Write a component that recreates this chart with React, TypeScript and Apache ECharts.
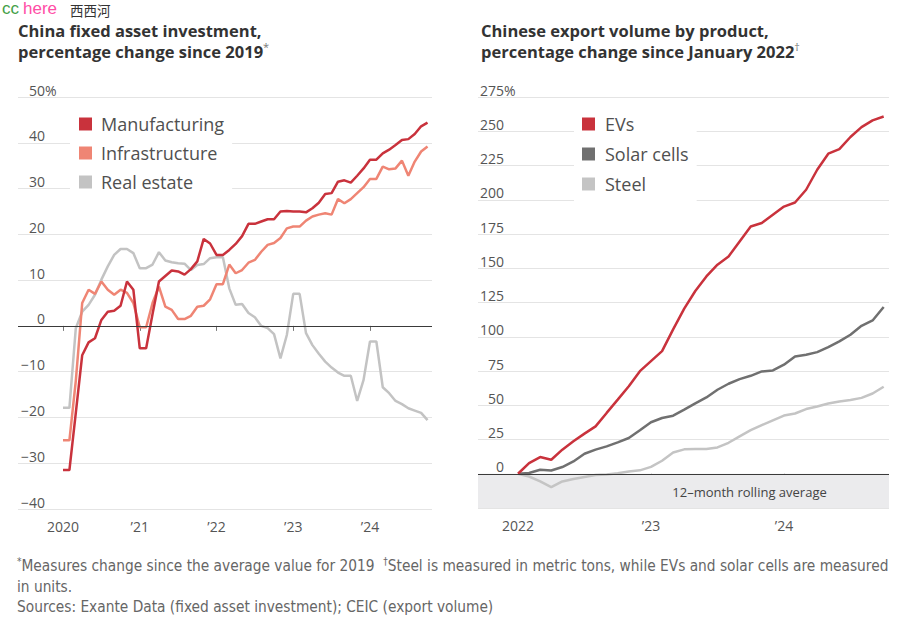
import React, { useEffect, useRef } from 'react';
import * as echarts from 'echarts';

// ---------- data ----------
// Left chart: monthly, index 0 = Jan 2020 ... 57 = Oct 2024
const leftTickMonths = [0, 12, 24, 36, 48];
const leftTickLabels = ['2020', '’21', '’22', '’23', '’24'];
const manufacturing = [
  -31.5, -31.5, -19, -6.4, -3.6, -2.7, 1.3, 3.1, 3.3, 4.4, 9.7, 7.9,
  -4.9, -4.9, 2.6, 9.7, 10.9, 12.1, 11.9, 11.2, 12.4, 14.1, 19.0, 18.0,
  15.5, 15.5, 16.6, 17.9, 19.6, 22.3, 22.3, 22.8, 23.3, 23.3, 25.0, 25.1,
  25.0, 25.0, 24.8, 25.7, 26.9, 28.8, 29.0, 31.5, 31.8, 31.3, 32.8, 34.4,
  36.3, 36.3, 37.7, 38.5, 39.5, 40.6, 40.8, 41.9, 43.6, 44.4,
];
const infrastructure = [
  -25, -25, -12, 5.0, 7.9, 7.0, 9.7, 7.9, 6.8, 7.9, 7.2, 5.0,
  -0.3, -0.3, 5.0, 8.6, 4.2, 3.5, 1.5, 1.5, 2.2, 4.2, 4.4, 5.8,
  9.1, 9.1, 13.4, 11.5, 12.2, 13.8, 14.4, 16.2, 17.7, 18.1, 19.2, 21.3,
  21.7, 21.7, 23.0, 23.9, 24.3, 24.6, 24.3, 27.7, 26.8, 27.7, 29.0, 30.3,
  32.1, 32.1, 34.8, 34.2, 34.4, 36.1, 32.8, 35.9, 38.1, 39.2,
];
const realEstate = [
  -17.9, -17.9, -0.5, 3.1, 4.6, 6.8, 10.1, 13.0, 15.5, 16.8, 16.8, 15.9,
  12.6, 12.6, 13.4, 16.1, 14.3, 13.9, 13.7, 13.6, 12.2, 13.3, 13.5, 14.8,
  15.0, 15.0, 8.2, 4.6, 4.8, 2.8, 1.9, 0.0, -0.5, -1.8, -7.1, -2.0,
  7.0, 7.0, -1.6, -4.2, -6.1, -7.8, -9.1, -10.2, -10.9, -10.9, -16.4, -11.8,
  -3.4, -3.4, -13.4, -14.7, -16.4, -17.1, -18.0, -18.5, -19.0, -20.6,
];

// Right chart: monthly, index 0 = Jan 2022 ... 33 = Oct 2024
const rightTickMonths = [0, 12, 24];
const rightTickLabels = ['2022', '’23', '’24'];
const evs = [
  0, 7.8, 12.2, 10.2, 17.6, 23.7, 29.3, 34.6, 44.4, 54.1, 63.9, 74.9,
  82.2, 89.5, 105.4, 120.5, 133.4, 144, 152.6, 158.6, 169.6, 180.5, 183, 189,
  195, 198, 207.3, 221.9, 233.6, 237, 245.8, 253, 257.9, 260.8,
];
const solarCells = [
  0, 0.5, 2.9, 2.4, 4.9, 9.0, 14.6, 17.6, 20, 22.9, 26.1, 31.7,
  37.6, 40.7, 42.4, 46.8, 51.4, 55.7, 61.3, 65.7, 69.1, 71.5, 74.7, 75.4,
  79.6, 85.6, 86.9, 88.8, 92.4, 96.6, 101.5, 108, 111.9, 121.7,
];
const steel = [
  0, -2, -5.6, -9.8, -5.6, -3.9, -2.4, -0.9, -0.5, 0.3, 1.7, 2.5,
  5.0, 9.5, 15.5, 17.8, 18, 18, 19.2, 22.6, 27.3, 31.8, 35.5, 39,
  42.5, 44, 47.2, 49.1, 51.3, 52.8, 53.8, 55.4, 58.6, 63.5,
];

// ---------- helpers ----------
const FONT = "'Open Sans', 'Noto Sans', sans-serif";
const NARROW = "'Liberation Sans Narrow', 'DejaVu Sans Condensed', 'Roboto', sans-serif";
const toPairs = (arr: number[]) => arr.map((v, i) => [i, v]);
const fmtNum = (v: number) => (v < 0 ? '−' + Math.abs(v) : String(v));

const yLabel = (top: number, width: number) => ({
  inside: true,
  margin: 1,
  align: 'left',
  verticalAlign: 'bottom',
  formatter: (v: number) => `{v|${fmtNum(v)}}` + (v === top ? '{p|%}' : ''),
  rich: {
    v: { width, align: 'right', fontSize: 14, color: '#555', fontFamily: FONT },
    p: { align: 'right', fontSize: 14, color: '#555', fontFamily: FONT },
  },
});

const xAxisBase = (grid: number, min: number, max: number, ticks: number[], labels: string[]) => ({
  type: 'value',
  gridIndex: grid,
  min,
  max,
  splitLine: { show: false },
  axisLine: { show: false },
  axisTick: { show: true, customValues: ticks, length: 5, lineStyle: { color: '#777' } },
  axisLabel: {
    customValues: ticks,
    formatter: (v: number) => labels[ticks.indexOf(v)] ?? '',
    margin: 10,
    color: '#555',
    fontSize: 14,
    fontFamily: FONT,
  },
});

const yAxisBase = (grid: number, min: number, max: number, interval: number, top: number, w: number) => ({
  type: 'value',
  gridIndex: grid,
  min,
  max,
  interval,
  axisLine: { show: false },
  axisTick: { show: false },
  splitLine: { lineStyle: { color: '#e4e4e4', width: 1 } },
  axisLabel: yLabel(top, w),
});

const zeroLine = {
  silent: true,
  symbol: ['none', 'none'],
  label: { show: false },
  lineStyle: { color: '#3a3a3a', width: 1.2, type: 'solid' },
  data: [{ yAxis: 0 }],
};

const lineSeries = (name: string, data: number[], color: string, grid: number, extra: any = {}) => ({
  name,
  type: 'line',
  xAxisIndex: grid,
  yAxisIndex: grid,
  data: toPairs(data),
  showSymbol: false,
  color,
  lineStyle: { width: 2.5, color },
  emphasis: { disabled: true },
  ...extra,
});

const legendBase = (data: string[], left: number, gap: number, padding: number[], textPad: number) => ({
  data,
  left,
  top: 108,
  orient: 'vertical',
  icon: 'rect',
  itemWidth: 13,
  itemHeight: 13,
  itemGap: gap,
  padding,
  backgroundColor: '#ffffff',
  selectedMode: false,
  textStyle: {
    fontSize: 18,
    lineHeight: 18,
    color: '#505050',
    fontFamily: FONT,
    padding: [0, 0, 0, textPad],
  },
});

const titleText = (x: number, l1: string, l2: string, sup: string) => ({
  type: 'text',
  x,
  y: 19.5,
  style: {
    text: `{t|${l1}}\n{t|${l2}}{s|${sup}}`,
    rich: {
      t: { fontSize: 16.5, fontWeight: 'bold', fill: '#333', fontFamily: FONT, lineHeight: 21 },
      s: { fontSize: 11, fill: '#777', fontFamily: FONT, lineHeight: 21, verticalAlign: 'top' },
    },
    verticalAlign: 'top',
  },
});

const footStyle = {
  f: { fontSize: 15.3, fill: '#666', fontFamily: NARROW, lineHeight: 20 },
  s: { fontSize: 10, fill: '#666', fontFamily: NARROW, lineHeight: 20, verticalAlign: 'top' },
};

const footText = (y: number, text: string) => ({
  type: 'text',
  x: 17,
  y,
  style: { text, rich: footStyle, verticalAlign: 'middle' },
});

const WM = "'Liberation Sans', Arial, sans-serif";

const option: any = {
  animation: false,
  backgroundColor: '#ffffff',
  grid: [
    { left: 18, top: 97, width: 414, height: 412 },
    { left: 478, top: 97, width: 411, height: 411 },
  ],
  xAxis: [
    xAxisBase(0, -7.04, 57.7, leftTickMonths, leftTickLabels),
    xAxisBase(1, -3.61, 33.48, rightTickMonths, rightTickLabels),
  ],
  yAxis: [
    yAxisBase(0, -40, 50, 10, 50, 26),
    yAxisBase(1, -25, 275, 25, 275, 25),
  ],
  legend: [
    legendBase(['Manufacturing', 'Infrastructure', 'Real estate'], 70, 11, [7, 8, 4, 9], 4),
    legendBase(['EVs', 'Solar cells', 'Steel'], 574, 12, [7, 8, 12, 8], 5),
  ],
  series: [
    lineSeries('Real estate', realEstate, '#c3c3c3', 0, { markLine: zeroLine }),
    lineSeries('Infrastructure', infrastructure, '#ef8574', 0),
    lineSeries('Manufacturing', manufacturing, '#c9323c', 0),
    lineSeries('Steel', steel, '#c4c4c4', 1, {
      markArea: {
        silent: true,
        itemStyle: { color: '#ebebed' },
        label: {
          show: true,
          position: 'inside',
          formatter: '12–month rolling average',
          color: '#444',
          fontSize: 13,
          fontFamily: FONT,
          offset: [66, 1],
        },
        data: [[{ yAxis: -25 }, { yAxis: 0 }]],
      },
      markLine: zeroLine,
    }),
    lineSeries('Solar cells', solarCells, '#707070', 1),
    lineSeries('EVs', evs, '#c9323c', 1),
  ],
  graphic: [
    { type: 'text', x: 2, y: 0, style: { text: 'cc', fontSize: 17, fill: '#43a047', fontFamily: WM, verticalAlign: 'top' } },
    { type: 'text', x: 23, y: 0, style: { text: 'here', fontSize: 17, fill: '#ff4da6', fontFamily: WM, verticalAlign: 'top' } },
    { type: 'text', x: 70, y: 9.5, style: { text: '西西河', fontSize: 13.5, fill: '#333', fontFamily: "'Noto Sans CJK SC', sans-serif", verticalAlign: 'middle' } },
    titleText(18, 'China fixed asset investment,', 'percentage change since 2019', '*'),
    titleText(481, 'Chinese export volume by product,', 'percentage change since January 2022', '†'),
    footText(566, '{s|*}{f|Measures change since the average value for 2019  }{s|†}{f|Steel is measured in metric tons, while EVs and solar cells are measured}'),
    footText(587, '{f|in units.}'),
    footText(607, '{f|Sources: Exante Data (fixed asset investment); CEIC (export volume)}'),
  ],
};

export default function App() {
  const ref = useRef<HTMLDivElement>(null);
  useEffect(() => {
    document.body.style.margin = '0';
    const chart = echarts.init(ref.current!, null, { renderer: 'svg' });
    chart.setOption(option);
    return () => chart.dispose();
  }, []);
  return <div ref={ref} style={{ width: 916, height: 634 }} />;
}
